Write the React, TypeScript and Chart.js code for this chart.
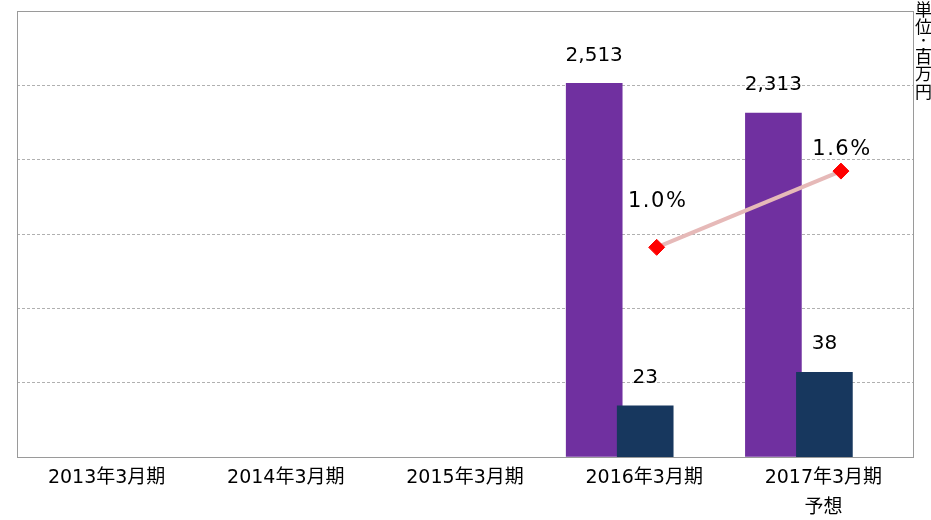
import React, { useEffect, useRef } from "react";
import { Chart, registerables } from "chart.js";

Chart.register(...registerables);

// ---- data ----
const categories: (string | string[])[] = [
  "2013年3月期",
  "2014年3月期",
  "2015年3月期",
  "2016年3月期",
  ["2017年3月期", "予想"],
];
const salesValues: (number | null)[] = [null, null, null, 2513, 2313];
const profitValues: (number | null)[] = [null, null, null, 23, 38];
const ratioValues: (number | null)[] = [null, null, null, 1.0, 1.6];
const unitChars = ["単", "位", "：", "百", "万", "円"];

const LATIN = '"DejaVu Sans", "Noto Sans CJK JP", sans-serif';
const CJK = '"Noto Sans CJK JP", sans-serif';

const toPoints = (vals: (number | null)[]) =>
  vals.map((v, i) => ({ x: i, y: v })).filter((p) => p.y != null);

const labelPlugin = {
  id: "valueLabels",
  afterDatasetsDraw(chart: any, _args: any, opts: any) {
    const ctx = chart.ctx;
    ctx.save();
    ctx.fillStyle = "#000";
    ctx.textAlign = "center";
    ctx.textBaseline = "middle";
    chart.data.datasets.forEach((ds: any, di: number) => {
      if (!ds._label) return;
      const meta = chart.getDatasetMeta(di);
      meta.data.forEach((el: any, k: number) => {
        const raw = ds.data[k];
        if (!raw || raw.y == null) return;
        if (ds._label === "bar") {
          ctx.font = `20px ${LATIN}`;
          try { (ctx as any).letterSpacing = "0px"; } catch (e) {}
          ctx.fillText(Number(raw.y).toLocaleString("en-US"), el.x, el.y - opts.barLift);
        } else {
          ctx.font = `21px ${LATIN}`;
          try { (ctx as any).letterSpacing = "1.5px"; } catch (e) {}
          const lift = opts.pctLift[raw.x] ?? 25;
          ctx.fillText(raw.y.toFixed(1) + "%", el.x + 1, el.y - lift);
        }
      });
    });
    ctx.restore();
  },
};

const framePlugin = {
  id: "frame",
  afterDraw(chart: any) {
    const { ctx, chartArea } = chart;
    const { left, top, right, bottom } = chartArea;
    ctx.save();
    ctx.strokeStyle = "#9a9a9a";
    ctx.lineWidth = 1;
    ctx.strokeRect(Math.round(left) + 0.5, Math.round(top) + 0.5, Math.round(right - left), Math.round(bottom - top));
    // unit text (vertical)
    ctx.fillStyle = "#000";
    ctx.textAlign = "left";
    ctx.textBaseline = "top";
    ctx.font = `17px ${CJK}`;
    let y = 1;
    unitChars.forEach((c) => {
      ctx.fillText(c, Math.round(right) + 2, y);
      y += c === "：" ? 12 : 17.5;
    });
    ctx.restore();
  },
};

export default function App() {
  const ref = useRef<HTMLCanvasElement | null>(null);

  useEffect(() => {
    if (!ref.current) return;
    const hiddenLinear = (min: number, max: number) => ({
      type: "linear",
      display: false,
      offset: false,
      bounds: "data",
      min,
      max,
      grid: { offset: false },
    });
    const chart = new Chart(ref.current, {
      type: "bar",
      data: {
        labels: categories as any,
        datasets: [
          {
            type: "line",
            _label: "pct",
            data: toPoints(ratioValues) as any,
            xAxisID: "xl",
            yAxisID: "y3",
            borderColor: "#E6B9B8",
            borderWidth: 4,
            pointStyle: "rectRot",
            pointRadius: 8,
            pointBackgroundColor: "#FF0000",
            pointBorderColor: "#FF0000",
            pointBorderWidth: 1,
            order: 0,
          } as any,
          {
            _label: "bar",
            data: toPoints(profitValues) as any,
            xAxisID: "xn",
            yAxisID: "y2",
            backgroundColor: "#17375E",
            order: 1,
          } as any,
          {
            _label: "bar",
            data: toPoints(salesValues) as any,
            xAxisID: "xp",
            yAxisID: "y",
            backgroundColor: "#7030A0",
            order: 2,
          } as any,
        ],
      },
      options: {
        animation: false,
        responsive: true,
        maintainAspectRatio: false,
        datasets: {
          bar: { grouped: false, barThickness: 56 },
        } as any,
        layout: { padding: { left: 17, right: 18, top: 11, bottom: 0 } },
        plugins: {
          legend: { display: false },
          tooltip: { enabled: false },
          valueLabels: { barLift: 28, pctLift: { 3: 46, 4: 22 } },
        } as any,
        scales: {
          x: {
            type: "category",
            offset: true,
            grid: { display: false, drawTicks: false },
            border: { display: false },
            ticks: {
              color: "#000",
              font: { family: LATIN, size: 19, lineHeight: 1.57 },
              padding: 6,
              maxRotation: 0,
              autoSkip: false,
            },
            afterFit(s: any) {
              s.height = 63;
            },
          },
          xp: hiddenLinear(-0.221, 4.779),
          xn: hiddenLinear(-0.5056, 4.4944),
          xl: hiddenLinear(-0.471, 4.391),
          y: {
            min: 0,
            max: 3000,
            ticks: { stepSize: 500, display: false },
            grid: { color: "#b0b0b0", drawTicks: false, lineWidth: 1 },
            border: { display: false, dash: [3, 2] },
            afterFit(s: any) {
              s.width = 0;
            },
          },
          y2: { display: false, min: 0, max: 200 },
          y3: { display: false, min: -0.65, max: 2.86 },
        } as any,
      },
      plugins: [labelPlugin, framePlugin],
    });
    return () => chart.destroy();
  }, []);

  return (
    <div style={{ position: "absolute", left: 0, top: 0, width: 931, height: 520 }}>
      <canvas ref={ref} />
    </div>
  );
}
